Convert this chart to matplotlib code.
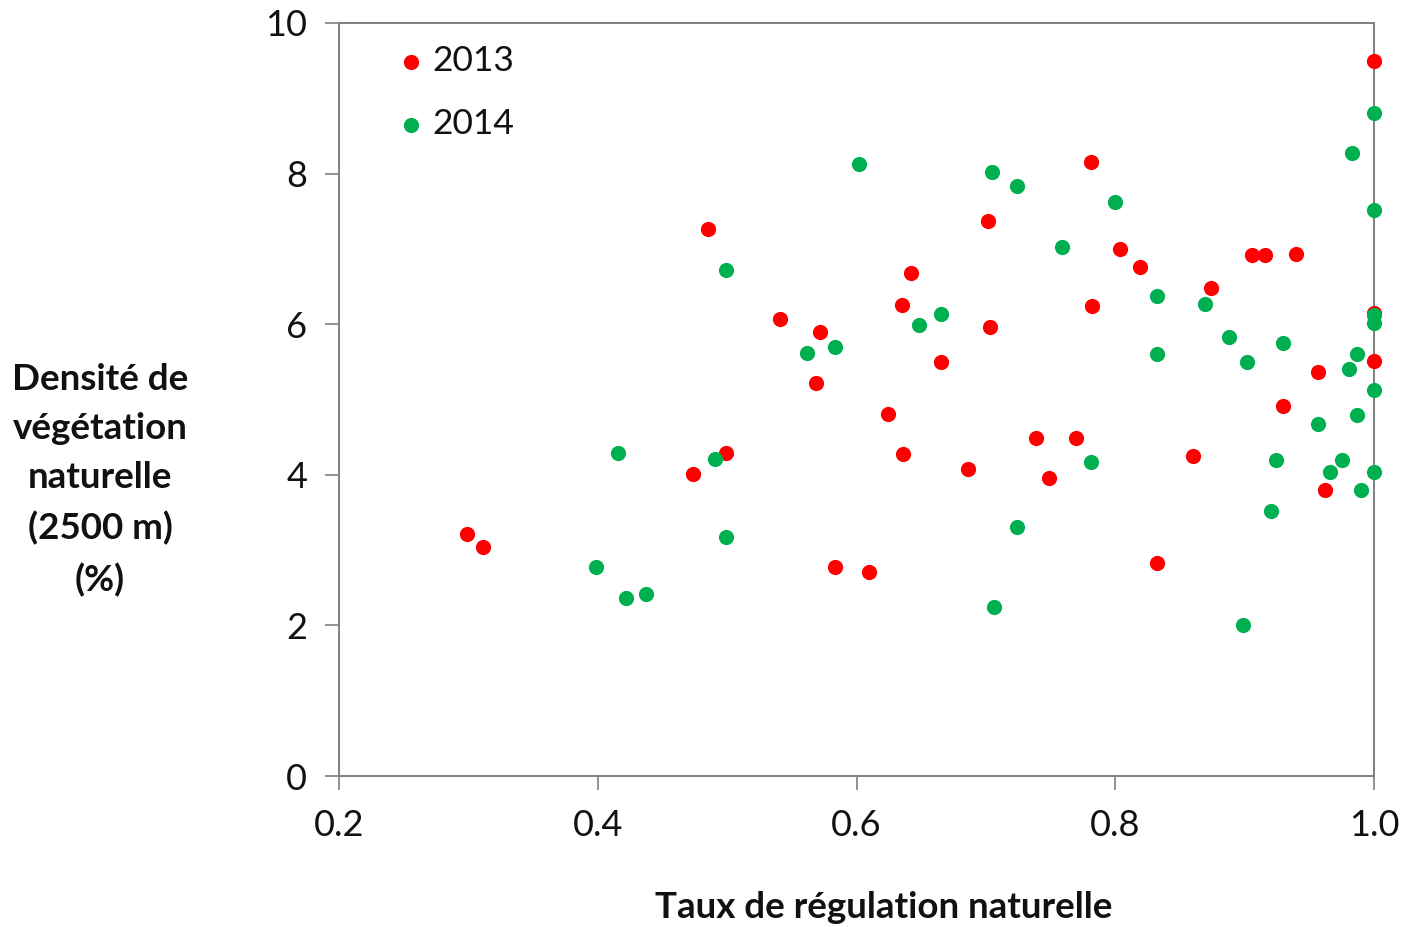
import matplotlib
matplotlib.use("Agg")
import matplotlib.pyplot as plt

# 2013 campaign: natural regulation rate vs natural vegetation density (2500 m)
x_2013 = [0.299, 0.311, 0.474, 0.485, 0.499, 0.541, 0.572, 0.569, 0.583, 0.610,
          0.624, 0.635, 0.636, 0.642, 0.665, 0.686, 0.702, 0.703, 0.739, 0.749,
          0.770, 0.781, 0.782, 0.804, 0.819, 0.832, 0.860, 0.874, 0.906, 0.916,
          0.940, 0.930, 0.957, 0.962, 1.0, 1.0, 1.0]
y_2013 = [3.21, 3.04, 4.01, 7.26, 4.29, 6.07, 5.90, 5.22, 2.78, 2.71,
          4.81, 6.25, 4.28, 6.68, 5.50, 4.08, 7.37, 5.96, 4.49, 3.96,
          4.49, 8.15, 6.24, 7.00, 6.76, 2.83, 4.25, 6.48, 6.92, 6.92,
          6.93, 4.91, 5.37, 3.80, 9.50, 6.15, 5.51]

# 2014 campaign
x_2014 = [0.399, 0.416, 0.422, 0.437, 0.491, 0.499, 0.499, 0.562, 0.583, 0.602,
          0.648, 0.665, 0.705, 0.706, 0.724, 0.724, 0.759, 0.781, 0.800, 0.832,
          0.832, 0.869, 0.888, 0.899, 0.902, 0.920, 0.924, 0.930, 0.957, 0.966,
          0.975, 0.981, 0.983, 0.987, 0.987, 0.990, 1.0, 1.0, 1.0, 1.0,
          1.0, 1.0]
y_2014 = [2.78, 4.29, 2.36, 2.42, 4.21, 6.72, 3.17, 5.62, 5.70, 8.13,
          5.99, 6.14, 8.02, 2.25, 7.84, 3.31, 7.03, 4.17, 7.62, 6.37,
          5.60, 6.27, 5.83, 2.01, 5.50, 3.52, 4.20, 5.75, 4.67, 4.04,
          4.20, 5.40, 8.27, 5.61, 4.79, 3.80, 8.80, 7.52, 6.12, 6.02,
          5.13, 4.04]

series_labels = ["2013", "2014"]
x_ticks = [0.2, 0.4, 0.6, 0.8, 1.0]
x_tick_labels = ["0.2", "0.4", "0.6", "0.8", "1.0"]
y_ticks = [0, 2, 4, 6, 8, 10]

plt.rcParams["font.family"] = ["Lato", "DejaVu Sans"]

fig = plt.figure(figsize=(14.04, 9.27), dpi=100)
ax = fig.add_axes([339 / 1404, 1 - 776 / 927, (1374 - 339) / 1404, (776 - 23) / 927])

red = "#FF0000"
green = "#00B050"
ax.scatter(x_2013, y_2013, s=120, color=red, linewidths=0, label=series_labels[0],
           zorder=3, clip_on=False)
ax.scatter(x_2014, y_2014, s=120, color=green, linewidths=0, label=series_labels[1],
           zorder=4, clip_on=False)

ax.set_xlim(0.2, 1.0)
ax.set_ylim(0, 10)
ax.set_xticks(x_ticks)
ax.set_xticklabels(x_tick_labels)
ax.set_yticks(y_ticks)

for side in ["left", "right", "top", "bottom"]:
    ax.spines[side].set_color("#7f7f7f")
    ax.spines[side].set_linewidth(1.4)

ax.tick_params(axis="both", direction="out", length=10, width=1.2, color="#7f7f7f",
               labelsize=26, labelcolor="#111111")
ax.tick_params(axis="x", pad=14)
ax.tick_params(axis="y", pad=13)

fig.text(100 / 1404, 1 - 480 / 927,
         "Densité de\nvégétation\nnaturelle\n(2500 m)\n(%)",
         ha="center", va="center", fontsize=26.5, fontweight="bold",
         linespacing=1.6, color="#111111")
fig.text(884 / 1404, 1 - 907 / 927, "Taux de régulation naturelle",
         ha="center", va="center", fontsize=26.5, fontweight="bold", color="#111111")

leg = ax.legend(loc="upper left", bbox_to_anchor=(0.046, 0.989), frameon=False,
                fontsize=25.5, handlelength=0.6, handletextpad=0.3,
                labelspacing=0.86, markerscale=1.0, borderaxespad=0.0)
for t in leg.get_texts():
    t.set_color("#111111")

fig.savefig("out.png", dpi=100, facecolor="white")
